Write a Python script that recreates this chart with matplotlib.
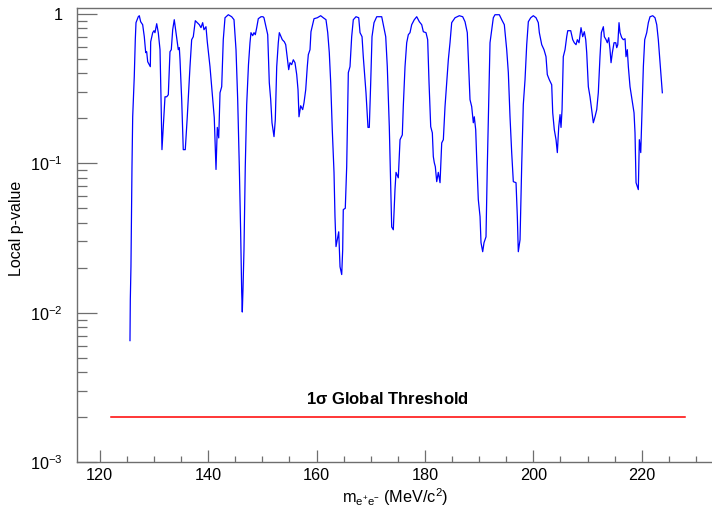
import numpy as np
import matplotlib
matplotlib.use('Agg')
import matplotlib.pyplot as plt
from matplotlib.ticker import FixedLocator, NullFormatter, MultipleLocator

plt.rcParams['font.family'] = ['Liberation Sans', 'DejaVu Sans']
plt.rcParams['mathtext.fontset'] = 'custom'
plt.rcParams['mathtext.rm'] = 'Liberation Sans'
plt.rcParams['mathtext.it'] = 'Liberation Sans:italic'
plt.rcParams['mathtext.bf'] = 'Liberation Sans:bold'

# local p-value scan
mass = [125.59, 125.65, 125.77, 125.96, 126.09, 126.38, 126.57, 126.70, 127.12, 127.31,
        127.56, 127.93, 128.23, 128.49, 128.67, 128.86, 129.15, 129.34, 129.41, 129.78,
        130.02, 130.20, 130.52, 130.81, 131.13, 131.31, 131.49, 131.73, 132.05, 132.36,
        132.66, 132.79, 132.97, 133.21, 133.47, 133.76, 134.08, 134.50, 134.69, 134.82,
        135.13, 135.42, 135.79, 136.16, 136.66, 136.97, 137.27, 137.64, 138.01, 138.38,
        138.69, 139.00, 139.24, 139.61, 139.85, 140.35, 140.85, 141.14, 141.46, 141.70,
        141.96, 142.20, 142.51, 142.80, 143.12, 143.73, 144.35, 144.78, 145.15, 145.46,
        145.76, 146.01, 146.20, 146.31, 146.44, 146.62, 146.86, 147.12, 147.45, 147.73,
        147.91, 148.23, 148.47, 148.71, 148.97, 149.26, 149.76, 150.13, 150.31, 150.68,
        151.00, 151.29, 151.55, 151.79, 152.16, 152.40, 152.66, 152.95, 153.14, 153.45,
        153.69, 154.06, 154.32, 154.50, 154.87, 155.11, 155.42, 155.72, 156.03, 156.35,
        156.59, 156.77, 157.08, 157.45, 157.69, 158.01, 158.30, 158.49, 158.80, 158.98,
        159.54, 160.15, 160.77, 161.25, 161.75, 162.07, 162.36, 162.62, 162.91, 163.23,
        163.41, 163.60, 163.84, 164.10, 164.34, 164.65, 164.83, 164.94, 165.31, 165.57,
        165.87, 166.18, 166.49, 166.79, 167.29, 167.79, 168.03, 168.40, 168.63, 169.13,
        169.50, 169.74, 170.00, 170.24, 170.61, 171.11, 172.03, 172.51, 172.77, 173.06,
        173.43, 173.69, 173.87, 174.17, 174.48, 174.67, 175.09, 175.41, 175.83, 176.01,
        176.33, 176.64, 176.94, 177.25, 177.56, 178.04, 178.49, 178.97, 179.41, 179.71,
        180.20, 180.51, 180.76, 181.07, 181.37, 181.55, 181.73, 181.92, 182.18, 182.47,
        182.79, 183.10, 183.40, 183.71, 184.02, 184.32, 184.63, 184.94, 185.56, 186.35,
        186.97, 187.40, 187.82, 188.08, 188.32, 188.63, 188.93, 189.11, 189.37, 189.56,
        189.85, 190.17, 190.35, 190.66, 190.90, 191.27, 191.51, 191.77, 192.01, 192.32,
        192.62, 192.93, 193.73, 194.17, 194.65, 195.09, 195.39, 195.70, 196.01, 196.31,
        196.81, 197.05, 197.23, 197.55, 197.86, 198.15, 198.47, 198.78, 199.08, 199.52,
        200.00, 200.50, 200.92, 201.11, 201.55, 201.97, 202.34, 202.58, 202.95, 203.39,
        203.58, 203.87, 204.19, 204.43, 204.69, 204.93, 205.11, 205.30, 205.53, 205.85,
        206.16, 206.35, 206.90, 207.27, 207.56, 207.88, 208.12, 208.43, 208.80, 209.11,
        209.41, 209.67, 209.85, 210.15, 210.46, 210.77, 211.07, 211.38, 211.70, 211.99,
        212.30, 212.55, 212.92, 213.10, 213.42, 213.65, 213.91, 214.15, 214.34, 214.58,
        214.89, 215.21, 215.39, 215.58, 215.81, 216.00, 216.31, 216.60, 216.92, 217.10,
        217.34, 217.53, 217.84, 218.21, 218.58, 218.76, 218.95, 219.19, 219.37, 219.56,
        219.82, 220.00, 220.30, 220.55, 220.92, 221.22, 221.53, 222.03, 222.45, 222.77,
        223.06, 223.38, 223.80]

p_local = [0.0065, 0.0122, 0.0203, 0.095, 0.205, 0.381, 0.673, 0.875, 0.959, 0.974,
           0.888, 0.848, 0.705, 0.551, 0.559, 0.479, 0.458, 0.444, 0.652, 0.750,
           0.773, 0.750, 0.861, 0.750, 0.577, 0.279, 0.1235, 0.176, 0.279, 0.279,
           0.288, 0.381, 0.559, 0.577, 0.785, 0.916, 0.750, 0.577, 0.595, 0.494,
           0.267, 0.1235, 0.1235, 0.205, 0.444, 0.673, 0.705, 0.902, 0.875, 0.848,
           0.810, 0.875, 0.785, 0.822, 0.652, 0.444, 0.267, 0.202, 0.091, 0.174,
           0.148, 0.297, 0.326, 0.673, 0.944, 0.989, 0.959, 0.916, 0.577, 0.267,
           0.095, 0.0342, 0.0137, 0.0101, 0.0145, 0.0263, 0.095, 0.247, 0.458, 0.642,
           0.750, 0.716, 0.750, 0.727, 0.810, 0.930, 0.959, 0.959, 0.944, 0.822,
           0.727, 0.347, 0.267, 0.187, 0.151, 0.196, 0.444, 0.642, 0.750, 0.705,
           0.673, 0.652, 0.623, 0.551, 0.424, 0.472, 0.458, 0.494, 0.472, 0.393,
           0.311, 0.205, 0.243, 0.229, 0.254, 0.311, 0.444, 0.534, 0.577, 0.761,
           0.930, 0.944, 0.974, 0.944, 0.916, 0.750, 0.551, 0.347, 0.168, 0.087,
           0.044, 0.0277, 0.0308, 0.0348, 0.0203, 0.0180, 0.0263, 0.049, 0.050, 0.095,
           0.405, 0.444, 0.705, 0.916, 0.959, 0.944, 0.750, 0.705, 0.518, 0.297,
           0.174, 0.174, 0.347, 0.705, 0.875, 0.959, 0.959, 0.785, 0.705, 0.444,
           0.176, 0.0697, 0.0375, 0.0359, 0.0667, 0.087, 0.080, 0.144, 0.155, 0.240,
           0.444, 0.642, 0.727, 0.750, 0.848, 0.916, 0.959, 0.888, 0.848, 0.761,
           0.750, 0.673, 0.347, 0.176, 0.160, 0.111, 0.101, 0.095, 0.0754, 0.087,
           0.0742, 0.137, 0.144, 0.240, 0.347, 0.494, 0.642, 0.875, 0.944, 0.974,
           0.959, 0.888, 0.750, 0.444, 0.267, 0.240, 0.187, 0.205, 0.168, 0.106,
           0.0572, 0.044, 0.0294, 0.0256, 0.0294, 0.0322, 0.095, 0.267, 0.642, 0.785,
           0.944, 0.989, 0.989, 0.916, 0.848, 0.577, 0.405, 0.205, 0.118, 0.0754,
           0.0742, 0.044, 0.0256, 0.0308, 0.098, 0.247, 0.363, 0.623, 0.888, 0.944,
           0.974, 0.944, 0.875, 0.750, 0.623, 0.577, 0.518, 0.393, 0.363, 0.336,
           0.218, 0.168, 0.144, 0.118, 0.176, 0.212, 0.174, 0.229, 0.518, 0.577,
           0.705, 0.773, 0.773, 0.673, 0.642, 0.623, 0.673, 0.642, 0.810, 0.705,
           0.761, 0.673, 0.551, 0.326, 0.279, 0.229, 0.187, 0.205, 0.229, 0.297,
           0.518, 0.750, 0.822, 0.705, 0.673, 0.642, 0.694, 0.577, 0.472, 0.551,
           0.642, 0.642, 0.595, 0.623, 0.875, 0.750, 0.694, 0.673, 0.683, 0.518,
           0.577, 0.444, 0.326, 0.267, 0.218, 0.160, 0.0742, 0.0697, 0.0667, 0.144,
           0.118, 0.196, 0.444, 0.673, 0.750, 0.875, 0.959, 0.974, 0.944, 0.848,
           0.673, 0.472, 0.297]

thr_x = [122.0, 228.0]
thr_p = 0.002
thr_label = r'1$\mathregular{\sigma}$ Global Threshold'

yticks = [1e-3, 1e-2, 1e-1, 1]
ytick_labels = [r'$10^{-3}$', r'$10^{-2}$', r'$10^{-1}$', '1']

W, H = 712, 509
fig = plt.figure(figsize=(W / 100, H / 100), dpi=100)
# axes run off the right edge of the canvas, as in the reference
ax = fig.add_axes([76.7 / W, 47 / H, (720 - 76.7) / W, (462 - 8.3) / H])

ax.plot(mass, p_local, color='#0000ff', lw=0.9)
ax.plot(thr_x, [thr_p, thr_p], color='#ff0000', lw=1.1)
ax.text(173.0, 0.00263, thr_label, ha='center', va='center',
        fontsize=12, fontweight='bold')

ax.set_yscale('log')
ax.set_ylim(1e-3, 1.092)
ax.set_xlim(115.76, 234.44)

ax.yaxis.set_major_locator(FixedLocator(yticks))
ax.set_yticklabels(ytick_labels)
ax.yaxis.set_minor_locator(FixedLocator(
    [m * 10.0**e for e in (-3, -2, -1) for m in range(2, 10)]))
ax.yaxis.set_minor_formatter(NullFormatter())
ax.xaxis.set_major_locator(MultipleLocator(20))
ax.xaxis.set_minor_locator(MultipleLocator(5))

frame = '#6e6e6e'
for s in ax.spines.values():
    s.set_color(frame)
    s.set_linewidth(1.0)
ax.tick_params(axis='both', which='both', direction='in', color=frame,
               labelsize=11.7, width=0.9)
ax.tick_params(axis='x', which='major', length=8.6, pad=4)
ax.tick_params(axis='x', which='minor', length=4.3)
ax.tick_params(axis='y', which='major', length=14.4, pad=10)
ax.tick_params(axis='y', which='minor', length=7.2)

fig.text(17 / W, 1 - 228 / H, 'Local p-value', rotation=90,
         ha='center', va='center', fontsize=11.5)
fig.text(395 / W, 1 - 497 / H, r'm$_{\mathregular{e^{+}e^{-}}}$ (MeV/c$^{2}$)',
         ha='center', va='center', fontsize=11.7)

fig.savefig('out.png', dpi=100)
